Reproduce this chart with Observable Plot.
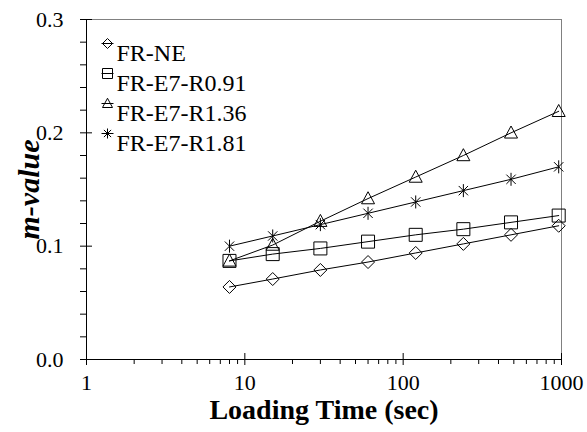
<!DOCTYPE html>
<html><head><meta charset="utf-8">
<script src="https://cdn.jsdelivr.net/npm/d3@7"></script>
<script src="https://cdn.jsdelivr.net/npm/@observablehq/plot@0.6"></script>
<style>
body{margin:0;background:#fff;}
#wrap{width:587px;height:432px;}
#wrap svg, #wrap svg text{font-family:"Liberation Serif","Times New Roman",serif !important;}
</style></head><body><div id="wrap"></div>
<script>
// ---- data ----
const times = [8, 15, 30, 60, 120, 240, 480, 960];
const seriesNames = ["FR-NE", "FR-E7-R0.91", "FR-E7-R1.36", "FR-E7-R1.81"];
const frNE   = [0.064, 0.071, 0.079, 0.086, 0.094, 0.102, 0.110, 0.118];
const frR091 = [0.087, 0.093, 0.098, 0.104, 0.110, 0.115, 0.121, 0.127];
const frR136 = [0.087, 0.101, 0.122, 0.142, 0.161, 0.180, 0.200, 0.219];
const frR181 = [0.100, 0.109, 0.119, 0.129, 0.139, 0.149, 0.159, 0.170];
const xMajorTicks = [1, 10, 100, 1000];
const xMinorTicks = [2,3,4,5,6,7,8,9,20,30,40,50,60,70,80,90,200,300,400,500,600,700,800,900];
const yMajorTicks = [0, 0.1, 0.2, 0.3];
const yMinorTicks = [0.02,0.04,0.06,0.08,0.12,0.14,0.16,0.18,0.22,0.24,0.26,0.28];
const xTitle = "Loading Time (sec)";
const yTitle = "m-value";

const seriesValues = [frNE, frR091, frR136, frR181];
const rows = seriesNames.flatMap((s, i) => times.map((t, j) => ({series: s, time: t, m: seriesValues[i][j]})));

// ---- symbols ----
const mk = (fn, withLine) => ({draw(c, size) {
  const r = Math.sqrt(size / Math.PI);
  fn(c, r);
  if (withLine) { c.moveTo(-r - 1, 0); c.lineTo(r + 1, 0); }
}});
const shapes = [
  (c, r) => { c.moveTo(0, -r); c.lineTo(r, 0); c.lineTo(0, r); c.lineTo(-r, 0); c.closePath(); },
  (c, r) => { const h = r; c.moveTo(-h, -h); c.lineTo(h, -h); c.lineTo(h, h); c.lineTo(-h, h); c.closePath(); },
  (c, r) => { c.moveTo(0, -r * 1.05); c.lineTo(r, r * 0.8); c.lineTo(-r, r * 0.8); c.closePath(); },
  (c, r) => { const d = r * 0.72; c.moveTo(0, -r); c.lineTo(0, r); c.moveTo(-d, -d); c.lineTo(d, d); c.moveTo(-d, d); c.lineTo(d, -d); }
];

const font = "'Liberation Serif', 'Times New Roman', serif";
const marks = [
  Plot.ruleY([0.3], {stroke: "#808080"}),
  Plot.ruleX([1000], {stroke: "#808080"}),
  Plot.ruleX([1], {stroke: "black"}),
  Plot.ruleY([0], {stroke: "black"}),
  Plot.axisY(yMinorTicks, {tickSize: 6, tickFormat: () => null, label: null}),
  Plot.axisY(yMajorTicks, {tickSize: 6, tickPadding: 17, tickFormat: d3.format(".1f"), fontSize: 22, fontFamily: font, label: null}),
  Plot.ruleY(yMajorTicks, {y: d => d, x1: 1, x2: 1, insetRight: -6, stroke: "black"}),
  Plot.axisX(xMinorTicks, {tickSize: 5, tickFormat: () => null, label: null}),
  Plot.axisX(xMajorTicks, {tickSize: 6, tickPadding: 9, tickFormat: d => String(d), fontSize: 22, fontFamily: font, label: null}),
  Plot.ruleX(xMajorTicks, {x: d => d, y1: 0, y2: 0, insetTop: -6, stroke: "black"}),
  Plot.line(rows, {x: "time", y: "m", z: "series", stroke: "black", strokeWidth: 1}),
  Plot.text([xTitle], {frameAnchor: "bottom", dy: 59, fontSize: 28, fontWeight: "bold", fontFamily: font, fill: "black"}),
  Plot.text([yTitle], {frameAnchor: "left", dx: -57, rotate: -90, textAnchor: "middle", fontSize: 30, fontWeight: "bold", fontStyle: "italic", fontFamily: font, fill: "black"})
];
seriesNames.forEach((s, i) => {
  marks.push(Plot.dot(rows.filter(d => d.series === s), {x: "time", y: "m", symbol: mk(shapes[i], false), r: 6.5, stroke: "black", fill: "none", strokeWidth: 1}));
  marks.push(Plot.dot([s], {frameAnchor: "top-left", dx: 21, dy: 24 + 30 * i, symbol: mk(shapes[i], true), r: 5, stroke: "black", fill: "none", strokeWidth: 1}));
  marks.push(Plot.text([s], {frameAnchor: "top-left", dx: 30, dy: 24 + 30 * i, textAnchor: "start", fontSize: 24, fontFamily: font, fill: "black"}));
});

const chart = Plot.plot({
  width: 587, height: 432,
  marginLeft: 86, marginRight: 26, marginTop: 19, marginBottom: 73,
  style: {fontFamily: "Liberation Serif", color: "black", background: "white"},
  x: {type: "log", domain: [1, 1000]},
  y: {domain: [0, 0.3]},
  marks
});
document.getElementById("wrap").appendChild(chart);
</script></body></html>
